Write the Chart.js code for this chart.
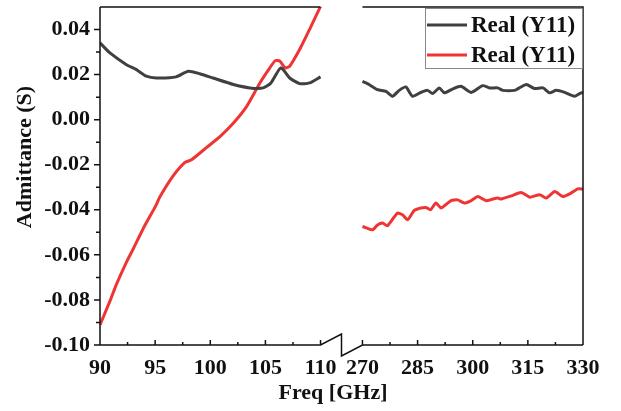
<!DOCTYPE html>
<html lang="en">
<head>
    <meta charset="UTF-8">
    <title>Admittance</title>
    <script src="https://cdn.jsdelivr.net/npm/chart.js"></script>
    <style>
        body { margin: 0; background: #fff; }
    </style>
</head>
<body>
    <canvas id="admChart" width="621" height="411"></canvas>

    <script>
        // data (frequency in GHz, admittance in S)
        const seriesLabels = ['Real (Y11)', 'Real (Y11)'];

        const blackLowFreq = [90, 90.9, 92.4, 93.3, 94.2, 95.1, 96.9, 98.0, 99.05, 100.25, 102.1, 103.6, 104.8, 105.5, 106.4, 107.2, 108.1, 109, 110];
        const blackLow = [0.0341, 0.0296, 0.0244, 0.0222, 0.0193, 0.0185, 0.0190, 0.0215, 0.0204, 0.0185, 0.0156, 0.0141, 0.0141, 0.0163, 0.0230, 0.0185, 0.0160, 0.0163, 0.0190];

        const blackHighFreq = [270, 271.8, 274.1, 276.4, 278.2, 280, 281.8, 283.6, 285.9, 287.7, 289.1, 290.9, 292.3, 294.5, 296.8, 299.6, 302.7, 304.6, 306.8, 308.2, 311.4, 312.7, 314.6, 316.8, 319.1, 320.9, 322.7, 325, 327.7, 329.1, 330];
        const blackHigh = [0.0170, 0.0156, 0.0133, 0.0126, 0.0104, 0.0130, 0.0145, 0.0104, 0.0121, 0.0130, 0.0116, 0.0141, 0.0119, 0.0136, 0.0148, 0.0121, 0.0151, 0.0141, 0.0141, 0.0130, 0.0130, 0.0141, 0.0156, 0.0138, 0.0141, 0.0119, 0.0130, 0.0121, 0.0104, 0.0116, 0.0121];

        const redLowFreq = [90, 90.9, 91.5, 92.4, 93, 93.9, 95.1, 95.4, 96.6, 97.7, 98.3, 99.6, 100.9, 102.1, 103.3, 104.5, 105.4, 105.9, 106.3, 106.8, 107.2, 108.1, 109, 110];
        const redLow = [-0.0911, -0.0805, -0.0730, -0.0632, -0.0575, -0.0485, -0.0378, -0.0345, -0.0252, -0.0190, -0.0178, -0.0126, -0.0074, -0.0015, 0.0059, 0.0163, 0.0230, 0.0262, 0.0260, 0.0230, 0.0237, 0.0311, 0.0400, 0.0503];

        const redHighFreq = [270, 272.7, 274.1, 275.5, 276.8, 279.5, 280.9, 282.3, 284.1, 285.9, 287.3, 288.5, 290, 291.4, 294.1, 295.9, 297.7, 299.6, 301.4, 303.7, 305.5, 306.8, 307.7, 310.5, 313.2, 315.5, 318.2, 320, 322.3, 324.5, 326.4, 328.6, 330];
        const redHigh = [-0.0474, -0.0489, -0.0467, -0.0459, -0.0471, -0.0415, -0.0422, -0.0444, -0.0403, -0.0392, -0.0390, -0.0400, -0.0370, -0.0392, -0.0359, -0.0356, -0.0370, -0.0359, -0.0341, -0.0360, -0.0352, -0.0348, -0.0352, -0.0338, -0.0323, -0.0344, -0.0333, -0.0348, -0.0319, -0.0341, -0.0329, -0.0307, -0.0308];

        const xTicksLow = [90, 95, 100, 105, 110];
        const xTicksHigh = [270, 285, 300, 315, 330];
        const yTicks = [-0.10, -0.08, -0.06, -0.04, -0.02, 0.00, 0.02, 0.04];

        // broken axis: 90-110 and 270-330 squeezed onto one linear scale
        const GAP = 3.8;
        function toAxis(f) {
            return f <= 110 ? f - 90 : 20 + GAP + (f - 270) / 3;
        }
        function fromAxis(u) {
            return u <= 20 ? u + 90 : 270 + (u - 20 - GAP) * 3;
        }

        function buildPoints(lowF, lowV, highF, highV) {
            const pts = lowF.map((f, i) => ({ x: toAxis(f), y: lowV[i] }));
            pts.push({ x: 20 + GAP / 2, y: null });
            highF.forEach((f, i) => pts.push({ x: toAxis(f), y: highV[i] }));
            return pts;
        }

        const colors = ['#404040', '#ef3434'];
        const serif = "'Liberation Serif', 'Times New Roman', serif";

        // frame, break marks, tick marks, titles and legend
        const framePlugin = {
            id: 'frame',
            afterDraw(chart) {
                const ctx = chart.ctx;
                const xs = chart.scales.x, ys = chart.scales.y;
                const top = chart.chartArea.top, bottom = chart.chartArea.bottom;
                const left = chart.chartArea.left, right = chart.chartArea.right;
                const breakL = xs.getPixelForValue(20);
                const breakR = xs.getPixelForValue(20 + GAP);
                const mid = (breakL + breakR) / 2;

                ctx.save();
                ctx.strokeStyle = '#111';
                ctx.lineWidth = 1.5;
                ctx.beginPath();
                // left axis and top/right frame
                ctx.moveTo(left, top); ctx.lineTo(left, bottom);
                ctx.moveTo(left, top); ctx.lineTo(breakL, top);
                ctx.moveTo(breakR, top); ctx.lineTo(right, top); ctx.lineTo(right, bottom);
                // bottom axis with break
                ctx.moveTo(left, bottom); ctx.lineTo(breakL, bottom);
                ctx.lineTo(mid, bottom - 11); ctx.lineTo(mid, bottom + 11);
                ctx.lineTo(breakR, bottom); ctx.lineTo(right, bottom);

                // x ticks (inside)
                const xMinor = [92.5, 97.5, 102.5, 107.5, 277.5, 292.5, 307.5, 322.5];
                xTicksLow.concat(xTicksHigh).forEach(f => {
                    const px = xs.getPixelForValue(toAxis(f));
                    ctx.moveTo(px, bottom); ctx.lineTo(px, bottom - 5);
                });
                xMinor.forEach(f => {
                    const px = xs.getPixelForValue(toAxis(f));
                    ctx.moveTo(px, bottom); ctx.lineTo(px, bottom - 3);
                });
                // y ticks (outside)
                yTicks.forEach(v => {
                    const py = ys.getPixelForValue(v);
                    ctx.moveTo(left, py); ctx.lineTo(left - 6, py);
                });
                for (let v = -0.09; v < 0.045; v += 0.02) {
                    const py = ys.getPixelForValue(v);
                    ctx.moveTo(left, py); ctx.lineTo(left - 4, py);
                }
                ctx.stroke();

                // axis titles
                ctx.fillStyle = '#111';
                ctx.font = 'bold 22px ' + serif;
                ctx.textAlign = 'center';
                ctx.textBaseline = 'middle';
                ctx.fillText('Freq [GHz]', 333, 393);
                ctx.save();
                ctx.translate(25, 157);
                ctx.rotate(-Math.PI / 2);
                ctx.fillText('Admittance (S)', 0, 0);
                ctx.restore();

                // legend
                const lx = 425, ly = 8, lw = right - lx, lh = 61;
                ctx.fillStyle = '#fff';
                ctx.fillRect(lx, ly, lw, lh);
                ctx.strokeStyle = '#888';
                ctx.lineWidth = 1;
                ctx.strokeRect(lx + 0.5, ly + 0.5, lw - 1, lh - 1);
                ctx.font = 'bold 23px ' + serif;
                ctx.textAlign = 'left';
                chart.data.datasets.forEach((ds, i) => {
                    const cy = 25 + i * 30;
                    ctx.strokeStyle = ds.borderColor;
                    ctx.lineWidth = 3;
                    ctx.beginPath();
                    ctx.moveTo(lx + 2, cy); ctx.lineTo(lx + 42, cy);
                    ctx.stroke();
                    ctx.fillStyle = '#111';
                    ctx.fillText(ds.label, lx + 46, cy + 1);
                });
                ctx.restore();
            }
        };

        const ctx = document.getElementById('admChart').getContext('2d');
        const admChart = new Chart(ctx, {
            type: 'line',
            data: {
                datasets: [
                    {
                        label: seriesLabels[0],
                        data: buildPoints(blackLowFreq, blackLow, blackHighFreq, blackHigh),
                        borderColor: colors[0],
                        borderWidth: 3,
                        pointRadius: 0,
                        tension: 0.2,
                        spanGaps: false
                    },
                    {
                        label: seriesLabels[1],
                        data: buildPoints(redLowFreq, redLow, redHighFreq, redHigh),
                        borderColor: colors[1],
                        borderWidth: 3,
                        pointRadius: 0,
                        tension: 0.2,
                        spanGaps: false
                    }
                ]
            },
            options: {
                responsive: false,
                animation: false,
                layout: { padding: { top: 7, right: 38, left: 0, bottom: 0 } },
                plugins: {
                    legend: { display: false },
                    tooltip: { enabled: false }
                },
                scales: {
                    x: {
                        type: 'linear',
                        min: 0,
                        max: 40 + GAP,
                        grid: { display: false, drawTicks: false },
                        border: { display: false },
                        afterBuildTicks: scale => {
                            scale.ticks = xTicksLow.concat(xTicksHigh).map(f => ({ value: toAxis(f) }));
                        },
                        afterFit: scale => {
                            scale.height = 66;
                            scale.paddingLeft = 0;
                            scale.paddingRight = 0;
                        },
                        ticks: {
                            autoSkip: false,
                            maxRotation: 0,
                            padding: 10,
                            color: '#111',
                            font: { family: serif, size: 22, weight: 'bold' },
                            callback: v => String(Math.round(fromAxis(v)))
                        }
                    },
                    y: {
                        min: -0.10,
                        max: 0.05,
                        grid: { display: false, drawTicks: false },
                        border: { display: false },
                        afterBuildTicks: scale => {
                            scale.ticks = yTicks.map(v => ({ value: v }));
                        },
                        afterFit: scale => {
                            scale.width = 100;
                            scale.paddingTop = 0;
                            scale.paddingBottom = 0;
                        },
                        ticks: {
                            padding: 10,
                            color: '#111',
                            font: { family: serif, size: 22, weight: 'bold' },
                            callback: v => v.toFixed(2)
                        }
                    }
                }
            },
            plugins: [framePlugin]
        });
    </script>
</body>
</html>
